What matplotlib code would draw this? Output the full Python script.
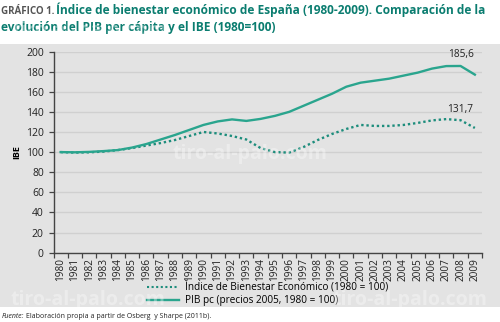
import numpy as np
import matplotlib
matplotlib.use('Agg')
import matplotlib.pyplot as plt
from matplotlib.patches import Rectangle
from matplotlib.lines import Line2D

years = list(range(1980, 2010))
ibe = [100, 99.5, 99.8, 100.5, 102, 104, 106.5, 109, 112, 116,
       120, 118.5, 116, 112.5, 104, 100, 99.5, 105, 112, 118,
       123, 127, 126, 126, 127, 129, 131.5, 132.8, 131.7, 124]
pib = [100, 99.8, 100.2, 101, 102, 104.5, 108, 112.5, 117, 122,
       127, 130.5, 132.5, 131, 133, 136, 140, 146, 152, 158,
       165, 169, 171, 173, 176, 179, 183, 185.5, 185.6, 177]
yticks = list(range(0, 201, 20))
ibe_label = 'Índice de Bienestar Económico (1980 = 100)'
pib_label = 'PIB pc (precios 2005, 1980 = 100)'

TEAL = '#2aa58e'
TEAL_DARK = '#1d8d7c'
TITLE_C = '#0b7d70'
BG = '#e3e3e3'

plt.rcParams['font.family'] = ['Open Sans', 'DejaVu Sans']

fig = plt.figure(figsize=(5, 3.22), dpi=100)
fig.patch.set_facecolor('white')
fig.patches.append(Rectangle((0, 1 - 307 / 322), 1, (307 - 44) / 322,
                             transform=fig.transFigure, facecolor=BG,
                             edgecolor='none', zorder=-5))

ax = fig.add_axes([53.5 / 500, 1 - 252.7 / 322, (482 - 53.5) / 500, (252.7 - 51.5) / 322])
ax.set_zorder(2)
ax.set_facecolor(BG)
x = np.arange(len(years))

ax.plot(x, ibe, color=TEAL_DARK, lw=1.7, linestyle=(0, (1, 1.2)), zorder=3)
ax.plot(x, pib, color=TEAL, lw=1.7, zorder=3)

ax.set_xlim(-0.5, len(years) - 0.5)
ax.set_ylim(0, 200)
ax.set_yticks(yticks)
ax.yaxis.grid(True, color='#d0d0d0', lw=1)
ax.set_axisbelow(True)
ax.set_xticks(x)
ax.set_xticklabels([str(y) for y in years], rotation=90, fontsize=7.2, color='#222')
ax.set_xticks(np.arange(-0.5, len(years)), minor=True)
ax.tick_params(axis='x', which='major', length=0, pad=4)
ax.tick_params(axis='x', which='minor', length=3.5, color='#444', width=0.9)
ax.tick_params(axis='y', labelsize=7.5, colors='#222', length=3.5, width=0.9)
ax.tick_params(axis='y', color='#444')
for s in ['top', 'right']:
    ax.spines[s].set_visible(False)
for s in ['left', 'bottom']:
    ax.spines[s].set_color('#444')
    ax.spines[s].set_linewidth(1.0)
ax.set_ylabel('IBE', fontsize=6.5, fontweight='bold', labelpad=3)

i08 = years.index(2008)
ax.annotate(f'{pib[i08]:.1f}'.replace('.', ','), (x[i08], pib[i08]),
            xytext=(0, 4), textcoords='offset points', ha='center', va='bottom',
            fontsize=7.3, color='#222')
ax.annotate(f'{ibe[i08]:.1f}'.replace('.', ','), (x[i08], ibe[i08]),
            xytext=(0, 4), textcoords='offset points', ha='center', va='bottom',
            fontsize=7.3, color='#222')

handles = [Line2D([], [], color=TEAL_DARK, lw=1.5, linestyle=(0, (1, 1.2))),
           Line2D([], [], color=TEAL, lw=1.7)]
fig.legend(handles, [ibe_label, pib_label], loc='center',
           bbox_to_anchor=(0.535, 1 - 294 / 322), frameon=False, fontsize=7.2,
           handlelength=3.2, labelspacing=0.2, borderpad=0, handletextpad=0.6)

# title
fig.canvas.draw()
r = fig.canvas.get_renderer()
t1 = fig.text(0.002, 1 - 14 / 322, 'GRÁFICO 1.', fontsize=7.0, fontweight='bold',
              color='#555555', va='baseline')
bb = t1.get_window_extent(r)
fig.text(bb.x1 / fig.bbox.width + 0.004, 1 - 14 / 322,
         'Índice de bienestar económico de España (1980-2009). Comparación de la',
         fontsize=8.6, fontweight='bold', color=TITLE_C, va='baseline')
fig.text(0.002, 1 - 31 / 322, 'evolución del PIB per cápita y el IBE (1980=100)',
         fontsize=8.6, fontweight='bold', color=TITLE_C, va='baseline')

# footnote
t2 = fig.text(0.004, 1 - 318 / 322, 'Fuente:', fontsize=5, style='italic',
              color='#222', va='baseline')
bb2 = t2.get_window_extent(r)
fig.text(bb2.x1 / fig.bbox.width + 0.004, 1 - 318 / 322,
         'Elaboración propia a partir de Osberg  y Sharpe (2011b).',
         fontsize=5, color='#222', va='baseline')

# watermarks
for (wx, wy) in [(0.18, 1 - 31 / 322), (0.816, 1 - 31 / 322), (0.50, 1 - 154 / 322),
                 (0.175, 1 - 300 / 322), (0.82, 1 - 300 / 322)]:
    fig.text(wx, wy, 'tiro-al-palo.com', fontsize=14, fontweight='bold',
             color='white', alpha=0.35, ha='center', va='center', zorder=10)

fig.savefig('out.png', dpi=100)
